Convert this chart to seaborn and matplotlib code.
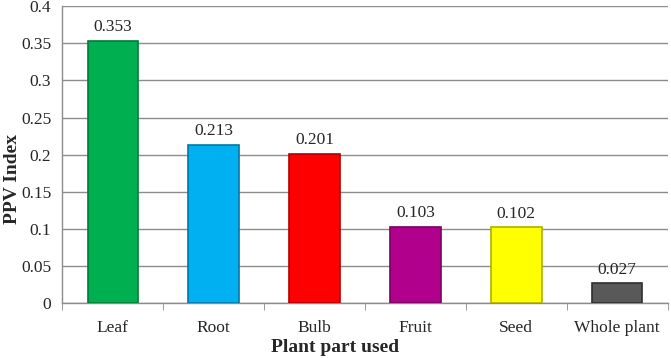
import pandas as pd
import numpy as np
import matplotlib.pyplot as plt
import seaborn as sns

# data
parts = ['Leaf', 'Root', 'Bulb', 'Fruit', 'Seed', 'Whole plant']
ppv = [0.353, 0.213, 0.201, 0.103, 0.102, 0.027]
colors = ['#00B050', '#00B0F0', '#FF0000', '#B0008C', '#FFFF00', '#595959']
edges = ['#007A38', '#0078A8', '#B00000', '#7A0062', '#B0B000', '#2E2E2E']

df = pd.DataFrame({'part': parts, 'ppv': ppv})

sns.set_style('white')
plt.rcParams['font.family'] = ['Liberation Serif', 'DejaVu Serif']

fig = plt.figure(figsize=(6.71, 3.58), dpi=100)
ax = fig.add_axes([0.093, 0.153, 0.902, 0.83])

sns.barplot(data=df, x='part', y='ppv', hue='part', palette=colors,
            saturation=1, width=0.5, legend=False, ax=ax, zorder=3)

for p, ec in zip(ax.patches, edges):
    p.set_edgecolor(ec)
    p.set_linewidth(1.2)

for c in ax.containers:
    ax.bar_label(c, fmt='%.3f', padding=4, fontsize=12.5)

ax.set_ylim(0, 0.4)
ax.set_yticks(np.arange(0, 0.401, 0.05))
ax.set_yticklabels(['0', '0.05', '0.1', '0.15', '0.2', '0.25', '0.3', '0.35', '0.4'])
ax.set_xlim(-0.5, 5.5)
ax.yaxis.grid(True, color='#8C8C8C', linewidth=1, zorder=0)
ax.set_axisbelow(True)

for s in ['top', 'right']:
    ax.spines[s].set_visible(False)
for s in ['left', 'bottom']:
    ax.spines[s].set_color('#8C8C8C')
    ax.spines[s].set_linewidth(1)

# category boundary ticks on x axis
ax.set_xticks(np.arange(-0.5, 6, 1), minor=True)
ax.tick_params(axis='x', which='minor', length=5, color='#8C8C8C', bottom=True)
ax.tick_params(axis='x', which='major', length=0, labelsize=12.5, pad=12)
ax.tick_params(axis='y', length=0, labelsize=12.5, pad=8)

ax.set_xlabel('Plant part used', fontsize=14, fontweight='bold', va='center')
ax.set_ylabel('PPV Index', fontsize=14, fontweight='bold', va='center')
ax.xaxis.set_label_coords(0.5, 11 / 358, transform=fig.transFigure)
ax.yaxis.set_label_coords(13 / 671, 0.5, transform=fig.transFigure)

plt.savefig('out.png', dpi=100)
